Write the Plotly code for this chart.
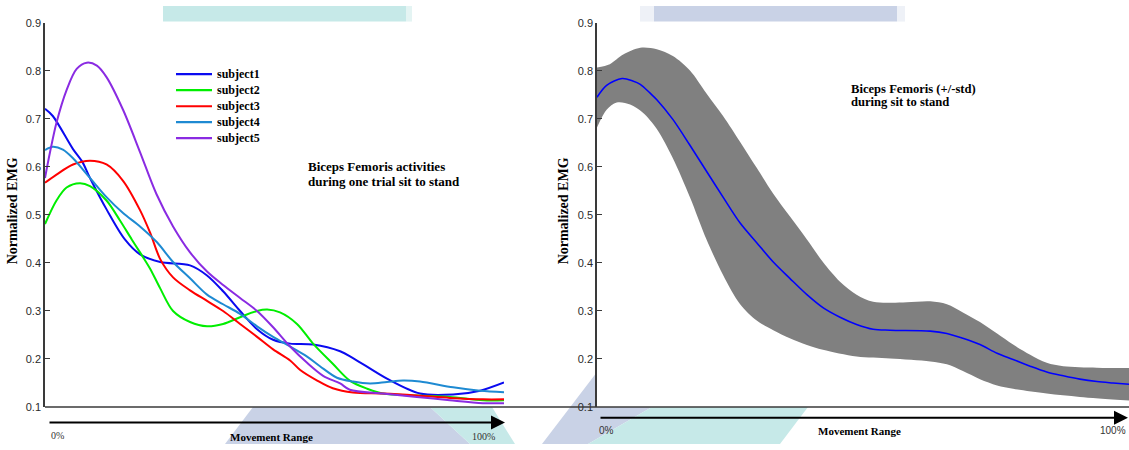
import plotly.graph_objects as go

# ---------------- data ----------------
# Left panel: individual subjects, x in % of movement range
subject_names = ["subject1", "subject2", "subject3", "subject4", "subject5"]
subject_colors = ["#0a0af0", "#00ee00", "#ff0000", "#1e8ad2", "#8a2be2"]

s1_x = [0, 1.7, 6.1, 8.1, 9.8, 13.5, 17.4, 20.7, 25.1, 31.6, 35.3, 38.8, 42.5, 46.2,
        49.7, 53.4, 58.4, 64.3, 67.1, 74.5, 81.7, 88.9, 94.8, 100]
s1_y = [0.721, 0.706, 0.637, 0.611, 0.577, 0.51, 0.449, 0.418, 0.402, 0.395, 0.374, 0.341,
        0.30, 0.262, 0.24, 0.232, 0.230, 0.216, 0.202, 0.159, 0.128, 0.126, 0.134, 0.151]

s2_x = [0, 2.5, 4.7, 7.6, 9.8, 13.4, 16.3, 18.9, 20.7, 22.9, 25.1, 27.9, 31.6, 35.3, 38.8,
        42.5, 46.2, 48.4, 51.2, 54.9, 58.4, 62.7, 66.4, 70.2, 73.6, 81.0, 88.2, 95.4, 100]
s2_y = [0.481, 0.53, 0.557, 0.566, 0.56, 0.53, 0.489, 0.449, 0.422, 0.388, 0.347, 0.30,
        0.277, 0.268, 0.273, 0.287, 0.30, 0.303, 0.297, 0.273, 0.232, 0.19, 0.155, 0.138,
        0.128, 0.124, 0.121, 0.114, 0.114]

s3_x = [0, 2.5, 6.1, 9.8, 13.4, 17.0, 20.7, 22.9, 25.1, 27.9, 31.6, 35.3, 38.8, 42.5, 46.2,
        49.7, 53.4, 55.6, 59.3, 62.7, 67.1, 73.6, 81.0, 88.2, 95.4, 100]
s3_y = [0.567, 0.584, 0.605, 0.613, 0.605, 0.571, 0.51, 0.463, 0.408, 0.37, 0.343, 0.321,
        0.30, 0.273, 0.246, 0.22, 0.197, 0.177, 0.155, 0.139, 0.130, 0.128, 0.124, 0.119,
        0.116, 0.116]

s4_x = [0, 1.7, 3.9, 6.1, 9.8, 13.4, 17.0, 20.7, 24.4, 27.9, 31.6, 35.3, 38.8, 42.5, 46.2,
        49.7, 53.4, 57.1, 59.9, 63.6, 67.1, 70.8, 74.5, 78.0, 81.7, 88.9, 94.8, 100]
s4_y = [0.635, 0.642, 0.636, 0.618, 0.577, 0.537, 0.504, 0.476, 0.443, 0.402, 0.368, 0.334,
        0.314, 0.294, 0.268, 0.246, 0.226, 0.205, 0.185, 0.161, 0.153, 0.149, 0.152, 0.155,
        0.153, 0.141, 0.134, 0.131]

s5_x = [0, 1.1, 2.5, 4.7, 6.9, 9.1, 11.3, 13.4, 17.0, 20.7, 24.3, 27.9, 31.6, 35.3, 38.8,
        42.5, 46.2, 49.7, 53.4, 57.1, 60.6, 64.3, 66.4, 73.6, 81.0, 88.2, 95.4, 100]
s5_y = [0.577, 0.631, 0.692, 0.76, 0.804, 0.817, 0.811, 0.787, 0.719, 0.631, 0.543, 0.476,
        0.422, 0.382, 0.354, 0.327, 0.30, 0.266, 0.226, 0.192, 0.165, 0.149, 0.136, 0.128,
        0.121, 0.114, 0.108, 0.108]

subjects_x = [s1_x, s2_x, s3_x, s4_x, s5_x]
subjects_y = [s1_y, s2_y, s3_y, s4_y, s5_y]

# Right panel: mean activity with +/- one standard deviation
mean_x = [0, 1.8, 4.7, 6.7, 8.1, 9.9, 11.2, 14.2, 17.4, 20.5, 23.6, 26.8, 29.9, 33.0, 36.1,
          39.3, 42.3, 45.5, 48.6, 51.7, 54.9, 62.4, 65.5, 68.5, 71.7, 74.9, 77.9, 81.1, 84.2,
          87.3, 90.4, 93.6, 96.6, 100]
mean_y = [0.745, 0.770, 0.784, 0.779, 0.772, 0.754, 0.740, 0.699, 0.645, 0.591, 0.537, 0.483,
          0.442, 0.402, 0.368, 0.334, 0.307, 0.287, 0.272, 0.262, 0.260, 0.258, 0.253, 0.243,
          0.230, 0.212, 0.199, 0.185, 0.173, 0.165, 0.158, 0.153, 0.150, 0.147]

upper_x = [0, 2.4, 4.9, 8.1, 11.2, 14.2, 17.4, 20.5, 23.6, 26.8, 29.9, 33.0, 36.1, 39.3, 42.3,
           45.5, 48.6, 51.7, 54.9, 58.0, 62.4, 65.5, 68.5, 71.7, 74.9, 77.9, 81.1, 84.2, 87.3,
           93.6, 100]
upper_y = [0.807, 0.814, 0.834, 0.848, 0.845, 0.831, 0.801, 0.753, 0.706, 0.652, 0.598, 0.544,
           0.497, 0.449, 0.402, 0.361, 0.334, 0.319, 0.317, 0.318, 0.320, 0.314, 0.297, 0.277,
           0.253, 0.230, 0.209, 0.192, 0.185, 0.182, 0.181]

lower_x = [0, 1.8, 3.7, 6.2, 8.6, 11.2, 14.2, 17.4, 20.5, 23.6, 26.8, 29.9, 33.0, 36.1, 39.3,
           42.3, 48.6, 54.9, 62.4, 65.5, 68.5, 71.7, 74.9, 77.9, 84.2, 90.4, 100]
lower_y = [0.682, 0.719, 0.734, 0.730, 0.713, 0.679, 0.618, 0.537, 0.449, 0.375, 0.314, 0.280,
           0.260, 0.243, 0.229, 0.219, 0.205, 0.201, 0.195, 0.189, 0.175, 0.158, 0.145, 0.138,
           0.128, 0.121, 0.113]

y_ticks = [0.1, 0.2, 0.3, 0.4, 0.5, 0.6, 0.7, 0.8, 0.9]

# ---------------- layout helpers (pixel -> paper) ----------------
W, H = 1129, 450


def fx(p):
    return p / W


def fy(p):
    return 1 - p / H


SERIF = "Liberation Serif, Times New Roman, serif"
SANS = "Liberation Sans, Arial, sans-serif"
AXIS_COL = "#3a3a3a"

fig = go.Figure()

for name, xs, ys, col in zip(subject_names, subjects_x, subjects_y, subject_colors):
    fig.add_trace(go.Scatter(
        x=xs, y=ys, name=name, mode="lines",
        line=dict(color=col, width=2, shape="spline", smoothing=0.9),
        xaxis="x", yaxis="y", showlegend=False, hoverinfo="skip"))

fig.add_trace(go.Scatter(
    x=upper_x, y=upper_y, mode="lines", name="+std",
    line=dict(color="#808080", width=0, shape="spline", smoothing=0.9),
    xaxis="x2", yaxis="y2", showlegend=False, hoverinfo="skip"))
fig.add_trace(go.Scatter(
    x=lower_x, y=lower_y, mode="lines", name="-std", fill="tonexty",
    fillcolor="#808080",
    line=dict(color="#808080", width=0, shape="spline", smoothing=0.9),
    xaxis="x2", yaxis="y2", showlegend=False, hoverinfo="skip"))
fig.add_trace(go.Scatter(
    x=mean_x, y=mean_y, mode="lines", name="mean",
    line=dict(color="#0000ff", width=1.6, shape="spline", smoothing=0.9),
    xaxis="x2", yaxis="y2", showlegend=False, hoverinfo="skip"))

yaxis_common = dict(
    range=[0.1, 0.9], tickvals=y_ticks, ticktext=[f"{v:.1f}" for v in y_ticks],
    showline=True, linecolor=AXIS_COL, linewidth=1.5,
    ticks="inside", ticklen=5, tickwidth=1, tickcolor=AXIS_COL,
    tickfont=dict(family=SANS, size=11, color="#2a2a2a"),
    showgrid=False, zeroline=False, fixedrange=True,
    domain=[fy(412), fy(17.3)])
xaxis_common = dict(showline=False, showgrid=False, zeroline=False,
                    showticklabels=False, ticks="", fixedrange=True)

fig.update_layout(
    width=W, height=H,
    margin=dict(l=0, r=0, t=0, b=0),
    paper_bgcolor="white", plot_bgcolor="rgba(0,0,0,0)",
    xaxis=dict(domain=[fx(45), fx(504)], range=[0, 100], anchor="y", **xaxis_common),
    yaxis=dict(anchor="x", **yaxis_common),
    xaxis2=dict(domain=[fx(597), 1], range=[0, 99.6], anchor="y2", **xaxis_common),
    yaxis2=dict(anchor="x2", **yaxis_common),
)

# ---------------- shapes ----------------
def poly(points, color):
    path = "M " + " L ".join(f"{fx(a):.5f},{fy(b):.5f}" for a, b in points) + " Z"
    return dict(type="path", path=path, xref="paper", yref="paper",
                fillcolor=color, line=dict(width=0), layer="below")


TEAL = "#c6e9e8"
LAV = "#c9d2e6"
shapes = [
    poly([(163, 0), (406, 0), (406, 16), (163, 16)], TEAL),
    poly([(406, 0), (412, 0), (412, 16), (406, 16)], "#e4f4f3"),
    poly([(640, 0), (654, 0), (654, 16), (640, 16)], "#eef1f7"),
    poly([(654, 0), (897, 0), (897, 16), (654, 16)], LAV),
    poly([(897, 0), (905, 0), (905, 16), (897, 16)], "#eef1f7"),
    poly([(253, 412), (430, 412), (470, 450), (225, 450)], LAV),
    poly([(430, 412), (492, 412), (515, 450), (470, 450)], TEAL),
    poly([(597, 376), (597, 412), (652, 412), (588, 450), (542, 450)], LAV),
    poly([(652, 412), (808, 412), (780, 450), (588, 450)], TEAL),
    # shared baseline under both panels
    dict(type="line", xref="paper", yref="paper", x0=fx(45), x1=1, y0=fy(412), y1=fy(412),
         line=dict(color=AXIS_COL, width=1.5)),
]

# legend keys for the subjects
legend_rows = [70, 86.5, 103, 119.3, 135.7]
annotations = []
for name, col, ry in zip(subject_names, subject_colors, legend_rows):
    shapes.append(dict(type="line", xref="paper", yref="paper", x0=fx(176), x1=fx(212),
                       y0=fy(ry), y1=fy(ry), line=dict(color=col, width=2.2)))
    annotations.append(dict(x=fx(215), y=fy(ry), xref="paper", yref="paper",
                            text=f"<b>{name}</b>", showarrow=False, xanchor="left",
                            yanchor="middle", font=dict(family=SERIF, size=12, color="black")))

fig.update_layout(shapes=shapes)


def label(x, y, text, size=12, family=SERIF, xanchor="left", angle=0, color="black"):
    return dict(x=fx(x), y=fy(y), xref="paper", yref="paper", text=text, showarrow=False,
                xanchor=xanchor, yanchor="middle", textangle=angle,
                font=dict(family=family, size=size, color=color))


annotations += [
    label(306, 165, "<b>Biceps Femoris activities</b>", size=13),
    label(306, 180, "<b>during one trial sit to stand</b>", size=13),
    label(849, 85, "<b>Biceps Femoris (+/-std)</b>", size=12.6),
    label(849, 99, "<b>during sit to stand</b>", size=12.6),
    label(12, 211, "<b>Normalized EMG</b>", size=14, xanchor="center", angle=-90),
    label(563, 211, "<b>Normalized EMG</b>", size=14, xanchor="center", angle=-90),
    label(49, 441, "0%", size=10, color="#333"),
    label(271, 443, "<b>Movement Range</b>", size=11, xanchor="center"),
    label(470, 442, "100%", size=10, color="#333"),
    label(597, 436, "0%", size=10, family=SANS, color="#333"),
    label(859, 437, "<b>Movement Range</b>", size=11, xanchor="center"),
    label(1128, 436, "100%", size=10, family=SANS, xanchor="right", color="#333"),
    # direction arrows under each panel
    dict(x=fx(505), y=fy(428), xref="paper", yref="paper", ax=-457, ay=0,
         axref="pixel", ayref="pixel", text="", showarrow=True,
         arrowhead=2, arrowsize=1.4, arrowwidth=2, arrowcolor="black"),
    dict(x=fx(1128), y=fy(423), xref="paper", yref="paper", ax=-529, ay=0,
         axref="pixel", ayref="pixel", text="", showarrow=True,
         arrowhead=2, arrowsize=1.4, arrowwidth=2, arrowcolor="black"),
]
fig.update_layout(annotations=annotations)

fig.write_html("out.html")
